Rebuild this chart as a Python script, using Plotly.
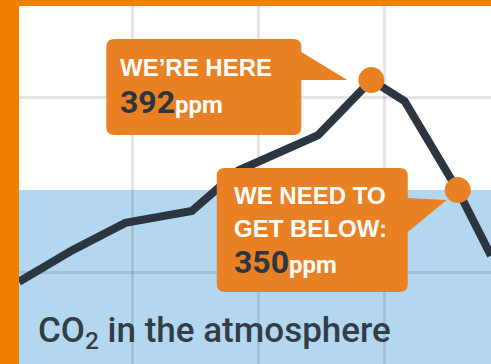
import plotly.graph_objects as go

# CO2 concentration (ppm) by year
YEARS = [1958, 1966, 1974, 1984, 1991, 2003, 2011, 2016, 2024, 2029]
PPM = [315, 327, 337.5, 342, 357.5, 371, 392, 384, 350, 325]

NOW_YEAR, NOW_PPM = 2011, 392
TARGET_YEAR, TARGET_PPM = 2024, 350

X_GRID = [1975, 1994, 2013]
Y_GRID = [318.7, 385.5]
X_RANGE = [1958, 2029]
Y_RANGE = [283.6, 420.3]

ORANGE = "#ef7f00"
BUBBLE = "#e98124"
DARK = "#2b3640"
BLUE = "#b4d7f0"
FONT = "Roboto"
LABEL_FONT = "Liberation Sans"


def bubble(x, y, left, right, top, bottom, notch_top, notch_bot, tip, r=8):
    """Speech bubble drawn in pixels around an anchor point (y up)."""
    tx, ty = tip
    path = (f"M{left + r},{top} L{right - r},{top} Q{right},{top} {right},{top - r} "
            f"L{right},{notch_top} L{tx},{ty} L{right},{notch_bot} "
            f"L{right},{bottom + r} Q{right},{bottom} {right - r},{bottom} "
            f"L{left + r},{bottom} Q{left},{bottom} {left},{bottom + r} "
            f"L{left},{top - r} Q{left},{top} {left + r},{top} Z")
    return dict(type="path", path=path, xref="x", yref="y",
                xsizemode="pixel", ysizemode="pixel", xanchor=x, yanchor=y,
                fillcolor=BUBBLE, line=dict(width=0), layer="above")


def label(text, x, y, dx, dy, size, color, family=LABEL_FONT, weight="bold"):
    return dict(text=text, x=x, y=y, xref="x", yref="y", xanchor="left",
                yanchor="middle", xshift=dx, yshift=dy, showarrow=False,
                font=dict(family=family, size=size, color=color, weight=weight))


def big_number(value):
    return (f"<b>{value}</b><span style='font-size:24px;color:white'>"
            f"<b>ppm</b></span>")


fig = go.Figure()
fig.add_trace(go.Scatter(x=YEARS, y=PPM, mode="lines",
                         line=dict(color=DARK, width=8), hoverinfo="skip"))
fig.add_trace(go.Scatter(x=[NOW_YEAR, TARGET_YEAR], y=[NOW_PPM, TARGET_PPM],
                         mode="markers", marker=dict(color=BUBBLE, size=26),
                         hoverinfo="skip"))

fig.update_layout(
    width=491, height=364,
    margin=dict(l=19, r=0, t=6, b=0),
    paper_bgcolor=ORANGE, plot_bgcolor="white",
    showlegend=False,
    xaxis=dict(range=X_RANGE, tickvals=X_GRID, showticklabels=False,
               gridcolor="rgba(0,0,0,0.1)", gridwidth=3, zeroline=False),
    yaxis=dict(range=Y_RANGE, tickvals=Y_GRID, showticklabels=False,
               gridcolor="rgba(0,0,0,0.1)", gridwidth=3, zeroline=False),
    shapes=[
        dict(type="rect", xref="paper", yref="y", x0=0, x1=1,
             y0=Y_RANGE[0], y1=TARGET_PPM, fillcolor=BLUE,
             line=dict(width=0), layer="below"),
        bubble(NOW_YEAR, NOW_PPM, -265, -70, 41, -55, 28, 0, (-24, 0)),
        bubble(TARGET_YEAR, TARGET_PPM, -241, -50, 22, -102, -8, -42, (-11, -10)),
    ],
    annotations=[
        label("WE’RE HERE", NOW_YEAR, NOW_PPM, -253, 13, 24, "white"),
        label(big_number(NOW_PPM), NOW_YEAR, NOW_PPM, -253, -22, 32, DARK, FONT, "normal"),
        label("WE NEED TO", TARGET_YEAR, TARGET_PPM, -226, -5, 24, "white"),
        label("GET BELOW:", TARGET_YEAR, TARGET_PPM, -226, -38, 24, "white"),
        label(big_number(TARGET_PPM), TARGET_YEAR, TARGET_PPM, -226, -72, 32, DARK, FONT, "normal"),
        dict(text="CO<sub>2</sub> in the atmosphere", x=0, y=0, xref="paper",
             yref="paper", xanchor="left", yanchor="middle", xshift=17,
             yshift=32, showarrow=False,
             font=dict(family=FONT, size=35, color="#333d47", weight=500)),
    ],
)

fig.write_html("out.html", config={"displayModeBar": False},
               post_script="document.body.style.margin = '0px';")
